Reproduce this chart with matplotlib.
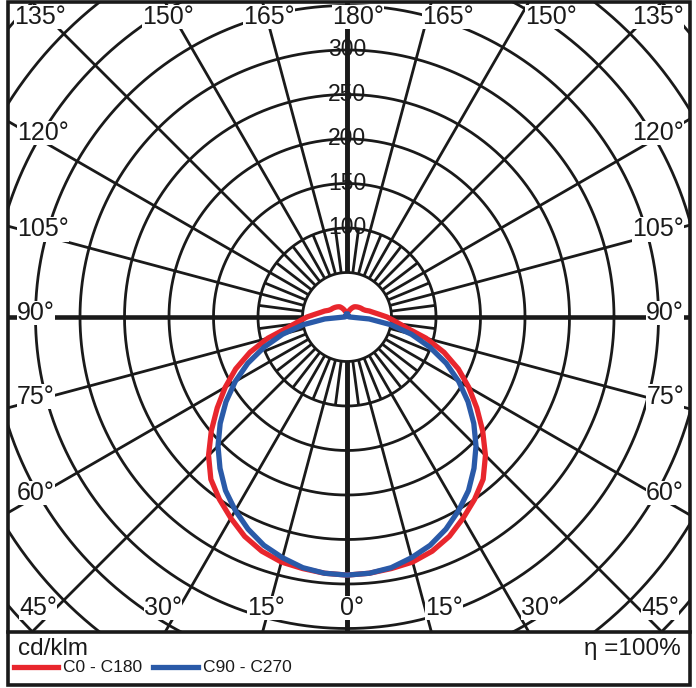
import numpy as np
import matplotlib
matplotlib.use("Agg")
import matplotlib.pyplot as plt
from matplotlib.patches import Rectangle

# ---------------- data (cd/klm) ----------------
gamma_deg = [0, 5, 10, 15, 20, 25, 30, 35, 40, 45, 50, 55, 60, 65, 70, 75, 80, 85, 90,
             95, 100, 105, 110, 115, 120, 125, 130, 135, 140, 145, 150, 155, 160, 165, 170, 175, 180]
c0_c180 = [290, 289, 287, 285, 280, 272, 261, 250, 238, 220, 199, 178, 158, 138, 116, 92, 67, 54, 45,
           36, 30, 26, 22, 20, 19, 18, 17, 16, 15, 14, 12, 10, 8, 6, 5, 4, 4]
c90_c270 = [290, 289, 286, 280, 273, 263, 251, 238, 222, 205, 186, 166, 145, 123, 99, 75, 50, 25, 3,
            2, 2, 2, 2, 2, 2, 2, 2, 2, 2, 2, 2, 2, 2, 2, 2, 2, 3]
ring_values = [50, 100, 150, 200, 250, 300, 350, 400, 450, 500]
ring_labels = [100, 150, 200, 250, 300]
angle_labels = [0, 15, 30, 45, 60, 75, 90, 105, 120, 135, 150, 165, 180]
legend_names = ["C0 - C180", "C90 - C270"]
unit_label = "cd/klm"
eff_label = "η =100%"

RED = "#e8262d"
BLUE = "#2a5aa8"
INK = "#1a1a1a"

W, H = 696, 688
S = 0.89            # px per cd/klm
CX, CY = 347, 317   # pixel centre

fig = plt.figure(figsize=(W / 100, H / 100), dpi=100)
ax = fig.add_axes([0, 0, 1, 1])
ax.set_xlim(-CX / S, (W - CX) / S)
ax.set_ylim(-(H - CY) / S, CY / S)
ax.axis("off")

px = fig.add_axes([0, 0, 1, 1])
px.set_xlim(0, W)
px.set_ylim(H, 0)
px.axis("off")
px.patch.set_alpha(0)

clip = Rectangle((-CX / S + 8 / S, -(632 - CY) / S), (690 - 8) / S, (632 - 2) / S,
                 transform=ax.transData, facecolor="none", edgecolor="none")
ax.add_patch(clip)

lw_grid = 2.0
t = np.linspace(0, 2 * np.pi, 721)
for rv in ring_values:
    ln, = ax.plot(rv * np.cos(t), rv * np.sin(t), color=INK, lw=lw_grid, zorder=2)
    ln.set_clip_path(clip)

def spoke(g, r0, r1, lw=lw_grid):
    for sgn in (1, -1):
        a = np.radians(g)
        x = sgn * np.sin(a)
        y = -np.cos(a)
        ln, = ax.plot([r0 * x, r1 * x], [r0 * y, r1 * y], color=INK, lw=lw, zorder=2,
                      solid_capstyle="butt")
        ln.set_clip_path(clip)

for k in range(0, 25):
    g = k * 7.5
    if k % 2 == 0:
        lw = 3.3 if g in (0, 90, 180) else lw_grid
        spoke(g, 50, 700, lw)
    else:
        spoke(g, 50, 100)

fam = ["Liberation Sans", "DejaVu Sans"]

for v in ring_labels:
    ax.text(0, v, str(v), ha="center", va="center", fontsize=16.5, color=INK,
            family=fam, zorder=3)

# angle labels around the border (text anchors measured on the frame)
top_y, bot_y = 17, 608
row_x = {  # signed angle -> label centre x (px)
    (135, -1): 40, (150, -1): 168, (165, -1): 269, (180, 1): 358,
    (165, 1): 448, (150, 1): 551, (135, 1): 658,
    (45, -1): 38, (30, -1): 163, (15, -1): 266, (0, 1): 352,
    (15, 1): 444, (30, 1): 540, (45, 1): 660,
}
for g in angle_labels:
    for sgn in ((1, -1) if g not in (0, 180) else (1,)):
        key = (g, sgn)
        if key in row_x:
            xx = row_x[key]
            yy = top_y if g > 90 else bot_y
            ha = "center"
        else:
            a = np.radians(g)
            col_x = 35 if sgn < 0 else 659
            yy = CY + abs(col_x - CX) / np.tan(a) - 4 if g != 90 else CY - 4
            xx = 17 if sgn < 0 else 684
            ha = "left" if sgn < 0 else "right"
        px.text(xx, yy, f"{g}°", ha=ha, va="center", fontsize=18, color=INK,
                family=fam, zorder=4,
                bbox=dict(facecolor="white", edgecolor="none", pad=0.2))

# curves
gr = np.radians(np.array(gamma_deg))
for vals, col in ((c0_c180, RED), (c90_c270, BLUE)):
    v = np.array(vals, dtype=float)
    gg = np.concatenate([-gr[::-1], gr[1:]])
    vv = np.concatenate([v[::-1], v[1:]])
    ax.plot(vv * np.sin(gg), -vv * np.cos(gg), color=col, lw=3.8, zorder=5,
            solid_joinstyle="round")

# frame
px.add_patch(Rectangle((7.5, 2), 682.5, 683, facecolor="none", edgecolor=INK, lw=2.6, zorder=6))
px.plot([7.5, 690], [632, 632], color=INK, lw=2.6, zorder=6)

# footer
px.text(18, 649, unit_label, ha="left", va="center", fontsize=17.5, color=INK, family=fam)
px.text(681, 649, eff_label, ha="right", va="center", fontsize=17.5, color=INK, family=fam)
px.plot([14, 58], [667, 667], color=RED, lw=3.8)
px.text(63, 668, legend_names[0], ha="left", va="center", fontsize=12.5, color=INK, family=fam)
px.plot([153, 198], [667, 667], color=BLUE, lw=3.8)
px.text(203, 668, legend_names[1], ha="left", va="center", fontsize=12.5, color=INK, family=fam)

fig.savefig("out.png", dpi=100, facecolor="white")
